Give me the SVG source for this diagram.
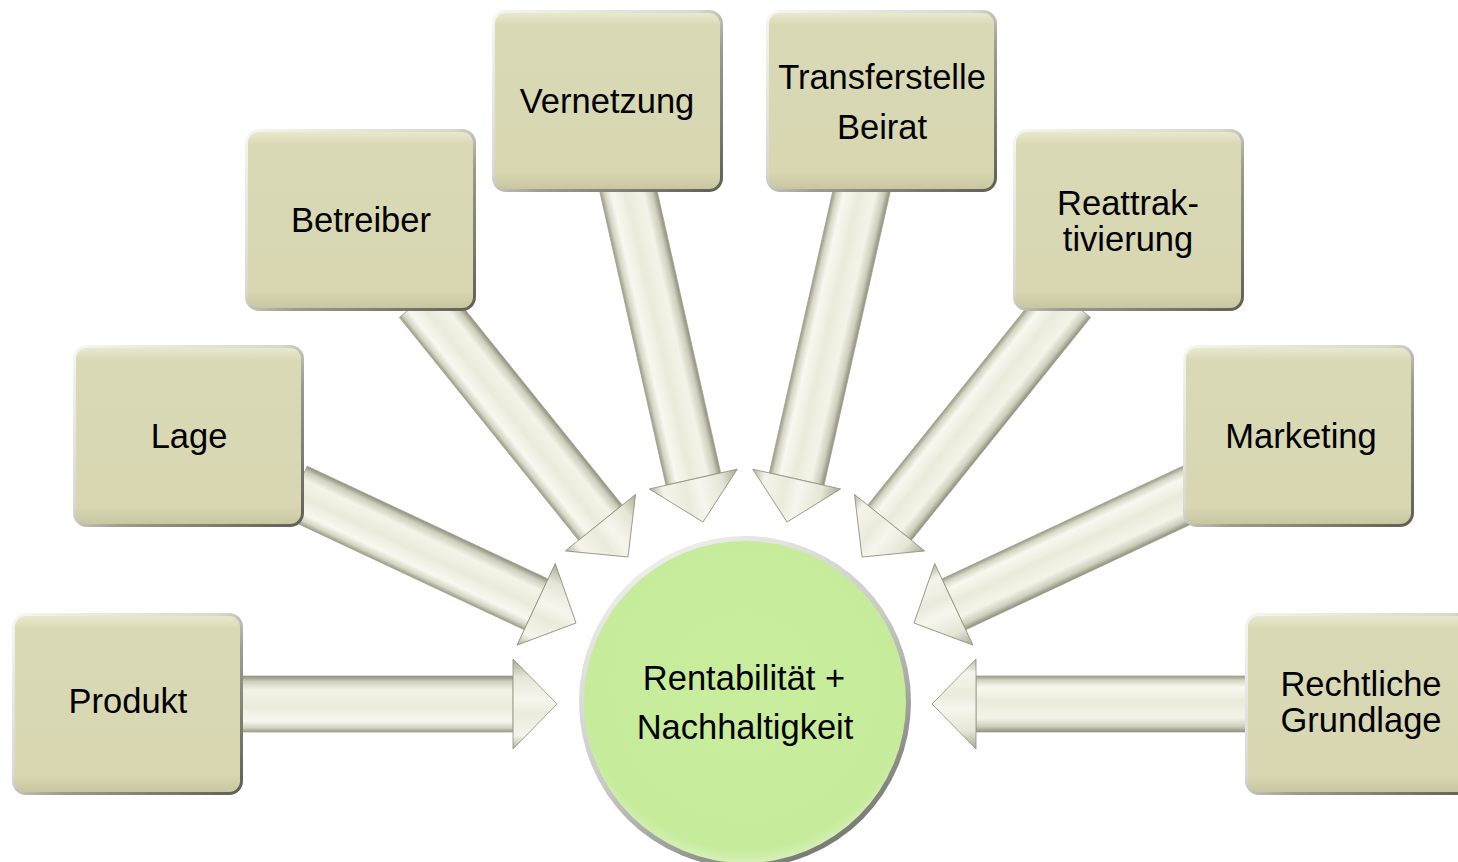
<svg xmlns="http://www.w3.org/2000/svg" width="1458" height="862" viewBox="0 0 1458 862">
<defs>
<style>
.t{font-family:"Liberation Sans",Arial,sans-serif;font-size:34.5px;fill:#000;text-anchor:middle}
.shaft{fill:url(#shaftG);stroke:#a4a490;stroke-width:0.8}
.head{fill:url(#headG);stroke:#8e8e7c;stroke-width:0.8}
.edge{fill:url(#edgeG)}
.face{fill:url(#faceG)}
</style>
<linearGradient id="shaftG" gradientUnits="userSpaceOnUse" x1="0" y1="-28" x2="0" y2="28">
<stop offset="0" stop-color="#8e8e7c"/>
<stop offset="0.1" stop-color="#cfcfbd"/>
<stop offset="0.25" stop-color="#f3f3e8"/>
<stop offset="0.55" stop-color="#ebebdc"/>
<stop offset="0.8" stop-color="#f8f8f0"/>
<stop offset="0.92" stop-color="#d6d6c4"/>
<stop offset="1" stop-color="#9a9a88"/>
</linearGradient>
<linearGradient id="headG" gradientUnits="userSpaceOnUse" x1="0" y1="-45" x2="0" y2="45">
<stop offset="0" stop-color="#a8a894"/>
<stop offset="0.2" stop-color="#e6e6d6"/>
<stop offset="0.45" stop-color="#f6f6ee"/>
<stop offset="0.6" stop-color="#ebebdc"/>
<stop offset="0.85" stop-color="#f4f4ea"/>
<stop offset="1" stop-color="#b4b4a0"/>
</linearGradient>
<linearGradient id="edgeG" x1="0" y1="0" x2="1" y2="1">
<stop offset="0" stop-color="#f6f6f2"/>
<stop offset="0.45" stop-color="#d8d8d0"/>
<stop offset="0.6" stop-color="#9c9c90"/>
<stop offset="1" stop-color="#5e5e52"/>
</linearGradient>
<linearGradient id="faceG" x1="0" y1="0" x2="0" y2="1">
<stop offset="0" stop-color="#e9e8cc"/>
<stop offset="0.07" stop-color="#dad9b6"/>
<stop offset="0.9" stop-color="#d8d7b2"/>
<stop offset="1" stop-color="#c8c7a2"/>
</linearGradient>
<linearGradient id="ringG" x1="0.2" y1="0" x2="0.8" y2="1">
<stop offset="0" stop-color="#f2f2f0"/>
<stop offset="0.5" stop-color="#c8c8c4"/>
<stop offset="1" stop-color="#6e6e68"/>
</linearGradient>
<radialGradient id="greenG" cx="0.5" cy="0.45" r="0.55">
<stop offset="0" stop-color="#c8ed9d"/>
<stop offset="0.92" stop-color="#c6eb9a"/>
<stop offset="1" stop-color="#d6f0b6"/>
</radialGradient>
</defs>

<g id="connectors">
<g transform="translate(557,704) rotate(0)"><polygon class="shaft" points="-332,-28 -44,-28 -44,28 -332,28"/><polygon class="head" points="-44,-45 0,0 -44,45 -44,28 -44,-28"/></g>
<g transform="translate(576,623) rotate(25.1)"><polygon class="shaft" points="-310,-28 -44,-28 -44,28 -310,28"/><polygon class="head" points="-44,-45 0,0 -44,45"/></g>
<g transform="translate(628,557) rotate(51.2)"><polygon class="shaft" points="-330,-28 -44,-28 -44,28 -330,28"/><polygon class="head" points="-44,-45 0,0 -44,45"/></g>
<g transform="translate(703,522) rotate(77.3)"><polygon class="shaft" points="-351,-28 -44,-28 -44,28 -351,28"/><polygon class="head" points="-44,-45 0,0 -44,45"/></g>
<g transform="translate(787,522) rotate(102.7)"><polygon class="shaft" points="-351,-28 -44,-28 -44,28 -351,28"/><polygon class="head" points="-44,-45 0,0 -44,45"/></g>
<g transform="translate(862,557) rotate(128.8)"><polygon class="shaft" points="-330,-28 -44,-28 -44,28 -330,28"/><polygon class="head" points="-44,-45 0,0 -44,45"/></g>
<g transform="translate(914,623) rotate(154.9)"><polygon class="shaft" points="-310,-28 -44,-28 -44,28 -310,28"/><polygon class="head" points="-44,-45 0,0 -44,45"/></g>
<g transform="translate(932,704) rotate(180)"><polygon class="shaft" points="-332,-28 -44,-28 -44,28 -332,28"/><polygon class="head" points="-44,-45 0,0 -44,45"/></g>
</g>

<g id="produkt"><rect class="edge" x="12" y="613" width="231" height="182" rx="14"/><rect class="face" x="15" y="616" width="225" height="176" rx="11"/><text class="t" x="128" y="713">Produkt</text></g>
<g id="lage"><rect class="edge" x="73" y="345" width="231" height="182" rx="14"/><rect class="face" x="76" y="348" width="225" height="176" rx="11"/><text class="t" x="189" y="448">Lage</text></g>
<g id="betreiber"><rect class="edge" x="245" y="129" width="231" height="182" rx="14"/><rect class="face" x="248" y="132" width="225" height="176" rx="11"/><text class="t" x="361" y="232">Betreiber</text></g>
<g id="vernetzung"><rect class="edge" x="492" y="10" width="231" height="182" rx="14"/><rect class="face" x="495" y="13" width="225" height="176" rx="11"/><text class="t" x="607" y="113">Vernetzung</text></g>
<g id="transferstelle"><rect class="edge" x="766" y="10" width="231" height="182" rx="14"/><rect class="face" x="769" y="13" width="225" height="176" rx="11"/><text class="t" x="882" y="89">Transferstelle</text><text class="t" x="882" y="139">Beirat</text></g>
<g id="reattraktivierung"><rect class="edge" x="1013" y="129" width="231" height="182" rx="14"/><rect class="face" x="1016" y="132" width="225" height="176" rx="11"/><text class="t" x="1128" y="215">Reattrak-</text><text class="t" x="1128" y="251">tivierung</text></g>
<g id="marketing"><rect class="edge" x="1183" y="345" width="231" height="182" rx="14"/><rect class="face" x="1186" y="348" width="225" height="176" rx="11"/><text class="t" x="1301" y="448">Marketing</text></g>
<g id="rechtliche"><rect class="edge" x="1245" y="613" width="231" height="182" rx="14"/><rect class="face" x="1248" y="616" width="225" height="176" rx="11"/><text class="t" x="1361" y="696">Rechtliche</text><text class="t" x="1361" y="732">Grundlage</text></g>

<g id="zentrum"><circle cx="745" cy="702" r="166" fill="url(#ringG)"/><circle cx="745" cy="702" r="161" fill="url(#greenG)"/><text class="t" x="744" y="690">Rentabilität +</text><text class="t" x="745" y="739">Nachhaltigkeit</text></g>
</svg>
